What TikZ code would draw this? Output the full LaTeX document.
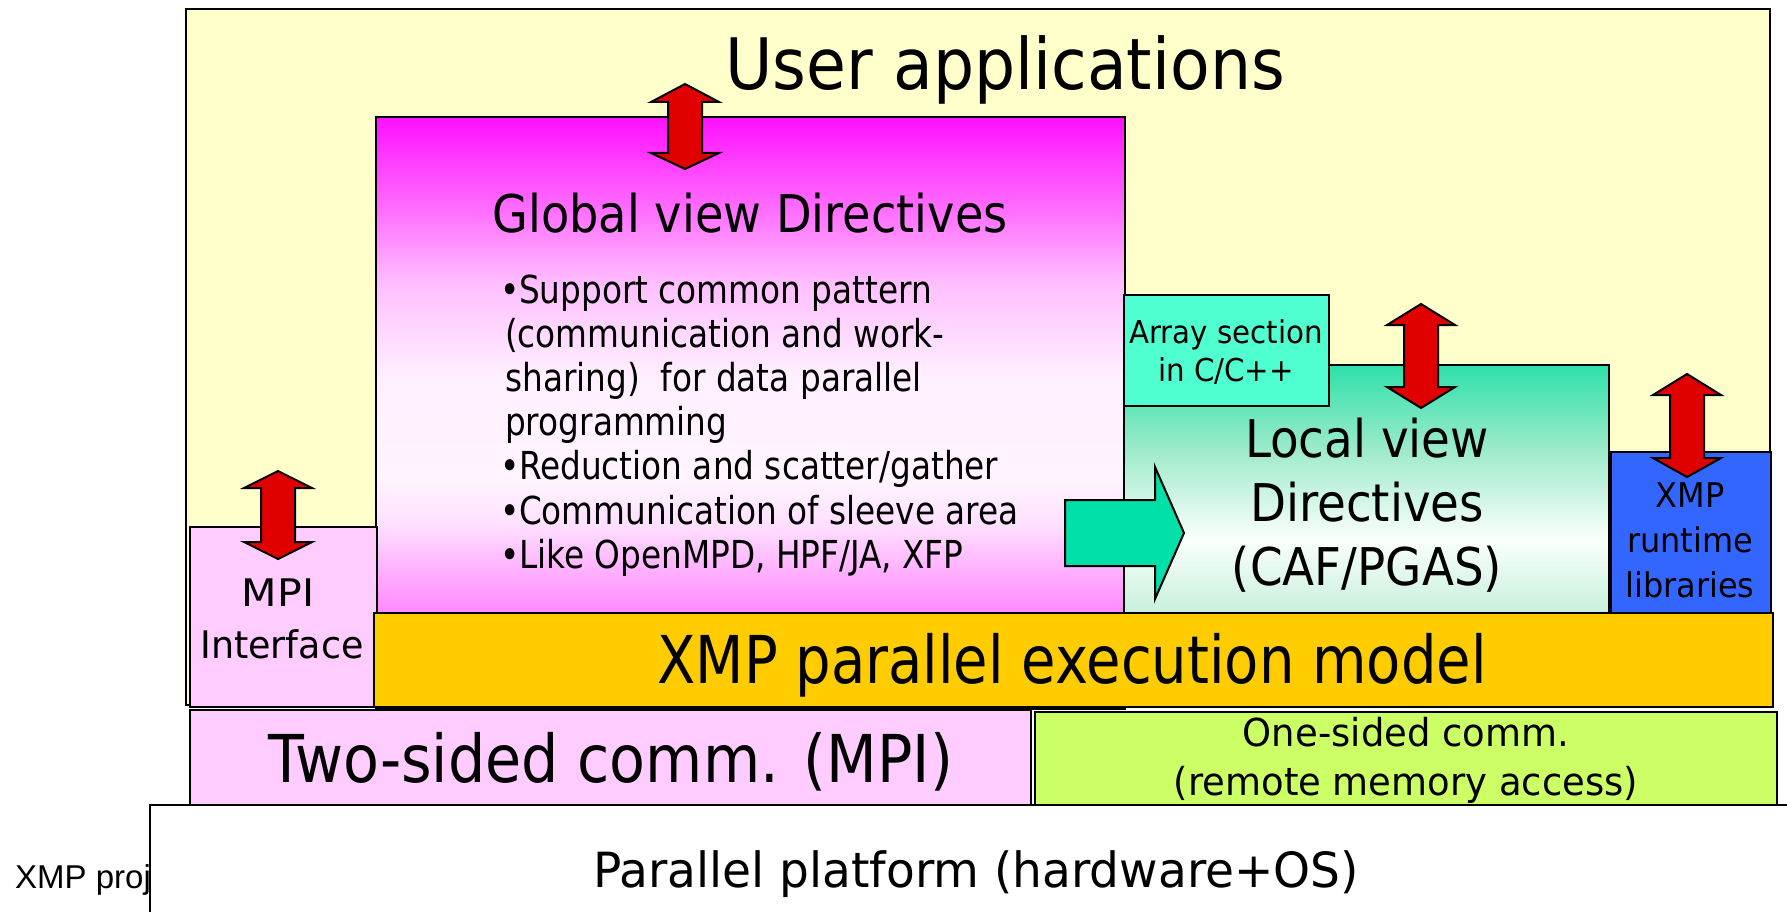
\documentclass[tikz,border=0pt]{standalone}
\usepackage{fontspec}
\usepackage{graphicx}
\setmainfont{DejaVu Sans}
\newfontfamily\footfont{Liberation Sans}

% fills
\definecolor{appyellow}{HTML}{FFFFCC}
\definecolor{mpipink}{HTML}{FFCCFF}
\definecolor{execgold}{HTML}{FFCC00}
\definecolor{onelime}{HTML}{CCFF66}
\definecolor{arrayaqua}{HTML}{50FFD0}
\definecolor{rtblue}{HTML}{3366FF}
\definecolor{arrowred}{HTML}{E00000}
\definecolor{arrowteal}{HTML}{00E0A8}
% gradient stops, global view box
\definecolor{gvA}{HTML}{FF10FF}
\definecolor{gvB}{HTML}{FF70FF}
\definecolor{gvC}{HTML}{FFC0FF}
\definecolor{gvD}{HTML}{FFF0FF}
\definecolor{gvE}{HTML}{FFF4FF}
\definecolor{gvF}{HTML}{FFE0FF}
\definecolor{gvG}{HTML}{FFB0FF}
\definecolor{gvH}{HTML}{FF88FF}
\definecolor{gvI}{HTML}{FF80FF}
% gradient stops, local view box
\definecolor{lvtop}{HTML}{2EE0AA}
\definecolor{lvupper}{HTML}{A0EBCB}
\definecolor{lvwhite}{HTML}{FAFFFC}
\definecolor{lvbot}{HTML}{C8F0DC}

% path bounding box maps to 25bp (bottom) .. 75bp (top)
\pgfdeclareverticalshading{globalshade}{100bp}{color(0bp)=(gvI); color(25bp)=(gvI);
  color(33bp)=(gvH); color(36.7bp)=(gvG); color(40.6bp)=(gvF); color(44.4bp)=(gvE);
  color(53bp)=(gvD); color(60.8bp)=(gvC); color(67bp)=(gvB);
  color(75bp)=(gvA); color(100bp)=(gvA)}
\pgfdeclareverticalshading{localshade}{100bp}{color(0bp)=(lvbot); color(25bp)=(lvbot);
  color(40bp)=(lvwhite); color(57.5bp)=(lvupper);
  color(75bp)=(lvtop); color(100bp)=(lvtop)}

\newcommand{\sx}[2]{\scalebox{#1}[1]{#2}}
\newcommand{\bul}{\kern-5pt•\kern-1.5pt}
% vertical double block arrow: x, top tip y, bottom tip y, top head length, bottom head length
\newcommand{\redblock}[5]{%
  \draw[redarrow] (#1,#2) -- (#1+34,#2+#4) -- (#1+17,#2+#4) -- (#1+17,#3-#5)
    -- (#1+34,#3-#5) -- (#1,#3) -- (#1-34,#3-#5) -- (#1-17,#3-#5)
    -- (#1-17,#2+#4) -- (#1-34,#2+#4) -- cycle;}

\tikzset{
  layer/.style={draw=black, line width=2pt},
  redarrow/.style={draw=black, line width=2pt, fill=arrowred, line join=miter},
  tealarrow/.style={draw=black, line width=2pt, fill=arrowteal, line join=miter},
  label/.style={inner sep=0pt, anchor=base},
}

\begin{document}
\begin{tikzpicture}[x=1pt, y=-1pt]
\useasboundingbox (0,0) rectangle (1787,912);
\clip (0,0) rectangle (1787,912);

% caption at the lower left, partly hidden by the platform layer
\node[label, anchor=base west, font=\footfont\fontsize{33}{38}\selectfont] (caption) at (15,888) {XMP project};

% user application layer
\path[layer, fill=appyellow] (186,9) rectangle (1770,705);
\node[label, font=\fontsize{71}{84}\selectfont] (user) at (1005,90) {\sx{0.913}{User applications}};

% global view directives
\path[layer, shading=globalshade] (376,117) rectangle (1125,709);
\node[label, font=\fontsize{52}{64}\selectfont] (global) at (750,233) {\sx{0.89}{Global view Directives}};
\node[label, anchor=base west, font=\fontsize{38.5}{44.2}\selectfont] (bullets) at (505,303)
  {\sx{0.85}{\begin{tabular}[t]{@{}l@{}}
  \bul Support common pattern\\
  (communication and work-\\
  sharing)\ \ for data parallel\\
  programming\\
  \bul Reduction and scatter/gather\\
  \bul Communication of sleeve area\\
  \bul Like OpenMPD, HPF/JA, XFP
  \end{tabular}}};

% local view directives
\path[layer, shading=localshade] (1124,365) rectangle (1609,613);
\node[label, font=\fontsize{52}{64}\selectfont] (local) at (1367,457)
  {\sx{0.9}{\begin{tabular}[t]{@{}c@{}}Local view\\Directives\\(CAF/PGAS)\end{tabular}}};

% array section
\path[layer, fill=arrayaqua] (1124,295) rectangle (1329,406);
\node[label, font=\fontsize{31.5}{38}\selectfont] (array) at (1226,343)
  {\sx{0.93}{\begin{tabular}[t]{@{}c@{}}Array section\\in C/C++\end{tabular}}};

% runtime libraries
\path[layer, fill=rtblue] (1611,452) rectangle (1771,613);
\node[label, font=\fontsize{34}{45}\selectfont] (runtime) at (1690,507)
  {\sx{0.94}{\begin{tabular}[t]{@{}c@{}}XMP\\runtime\\libraries\end{tabular}}};

% MPI interface
\path[layer, fill=mpipink] (190,527) rectangle (377,707);
\node[label, font=\fontsize{38}{52}\selectfont] (mpi) at (282,606)
  {\begin{tabular}[t]{@{}c@{}}\sx{1.08}{MPI}\kern8pt\\\sx{0.96}{Interface}\end{tabular}};

% execution model
\path[layer, fill=execgold] (374,613) rectangle (1773,707);
\node[label, font=\fontsize{66}{80}\selectfont] (exec) at (1072,683) {\sx{0.848}{XMP parallel execution model}};

% communication layers
\path[layer, fill=mpipink] (190,710) rectangle (1031,805);
\node[label, font=\fontsize{66}{80}\selectfont] (twosided) at (611,782) {\sx{0.89}{Two-sided comm. (MPI)}};
\path[layer, fill=onelime] (1035,712) rectangle (1777,805);
\node[label, font=\fontsize{38.5}{49}\selectfont] (onesided) at (1406,746)
  {\sx{0.96}{\begin{tabular}[t]{@{}c@{}}One-sided comm.\\(remote memory access)\end{tabular}}};

% platform
\path[layer, fill=white] (150,805) rectangle (1800,930);
\node[label, font=\fontsize{48.5}{58}\selectfont] (platform) at (976,887) {\sx{0.97}{Parallel platform (hardware+OS)}};

% arrows
\draw[tealarrow] (1065,500) -- (1155,500) -- (1155,467) -- (1184,533)
  -- (1155,599) -- (1155,566) -- (1065,566) -- cycle;
\redblock{685}{84}{169}{18}{16}
\redblock{1421}{304}{408}{21}{21}
\redblock{1687}{374}{477}{21}{19}
\redblock{278}{471}{559}{17}{17}
\end{tikzpicture}
\end{document}
